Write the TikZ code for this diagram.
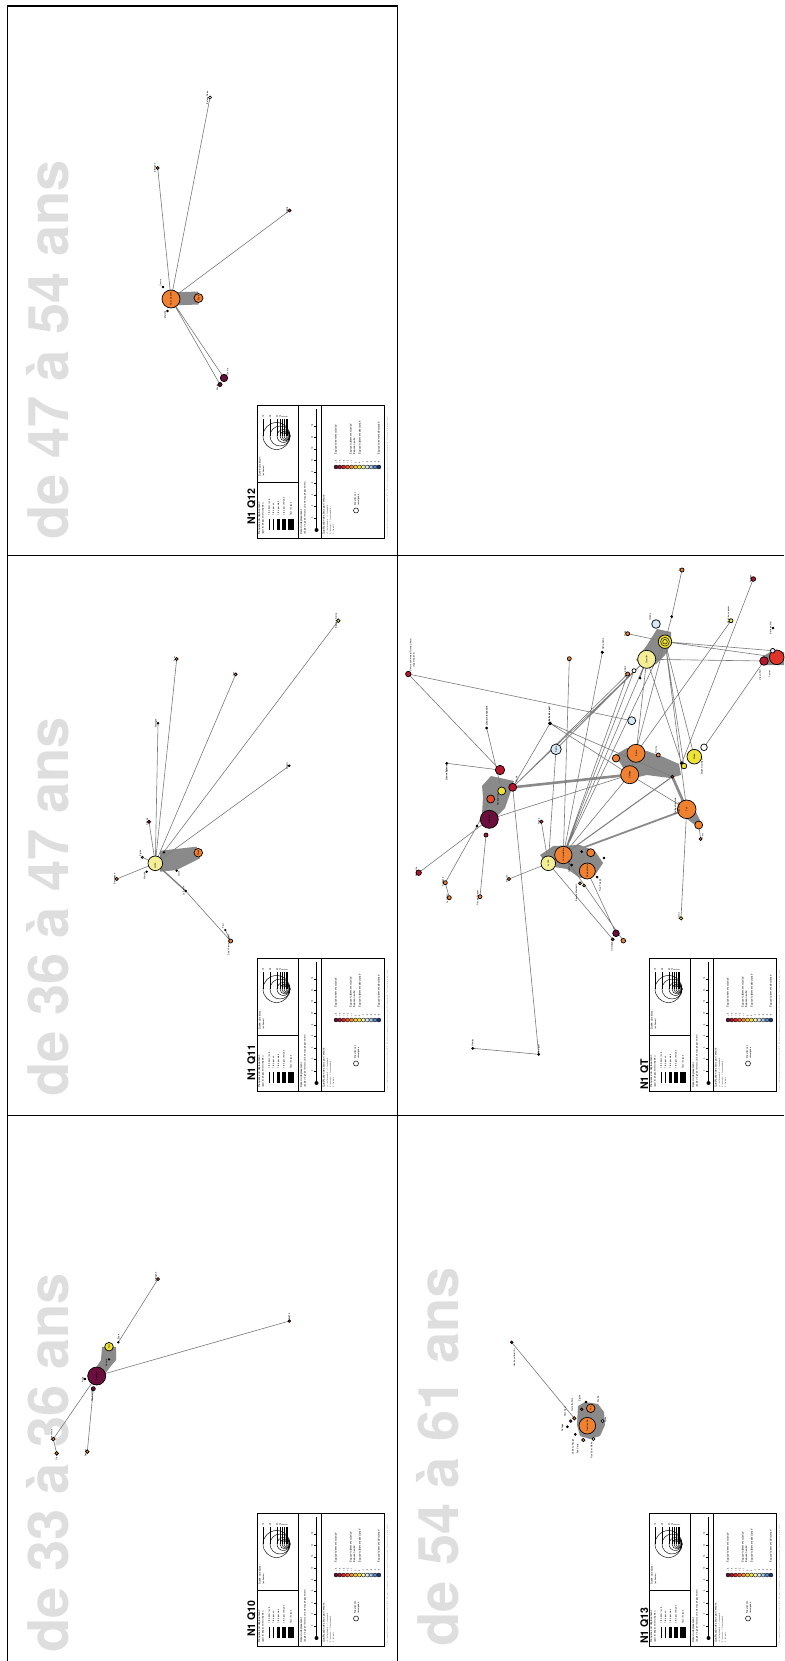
\documentclass[tikz,border=0pt]{standalone}
\usepackage{fontspec}
\setmainfont{TeX Gyre Heros}
\pgfdeclarelayer{titlelayer}
\pgfdeclarelayer{edgelayer}
\pgfsetlayers{titlelayer,edgelayer,main}
\definecolor{cMar}{HTML}{6A0F3C}
\definecolor{cCri}{HTML}{B5152F}
\definecolor{cRed}{HTML}{DE3429}
\definecolor{cROr}{HTML}{E54B2A}
\definecolor{cOra}{HTML}{EF8131}
\definecolor{cBro}{HTML}{C45A1C}
\definecolor{cYel}{HTML}{EEE234}
\definecolor{cPal}{HTML}{F4EF96}
\definecolor{cLbl}{HTML}{D6E8F4}
\definecolor{cEdge}{HTML}{7A7A7A}
\definecolor{cBand}{HTML}{8A8A8A}
\definecolor{cTitle}{HTML}{DEDEDE}
\definecolor{lg1}{HTML}{5E0E36}
\definecolor{lg2}{HTML}{A3122D}
\definecolor{lg3}{HTML}{D72A2A}
\definecolor{lg4}{HTML}{E8582A}
\definecolor{lg5}{HTML}{F08A30}
\definecolor{lg6}{HTML}{F4C530}
\definecolor{lg7}{HTML}{F1E535}
\definecolor{lg8}{HTML}{F6F2A8}
\definecolor{lg9}{HTML}{DCEAF5}
\definecolor{lg10}{HTML}{A7C8E4}
\definecolor{lg11}{HTML}{5C89C4}
\definecolor{lg12}{HTML}{1F3470}
\tikzset{
  frm/.style={line width=1.8pt},
  nd/.style={circle,draw=black,line width=0.7pt,inner sep=0pt},
  lk/.style={draw=cEdge,line width=0.6pt},
  band/.style={draw=cBand,line width=#1},
  band/.default=3pt,
  blob/.style={fill=cBand,draw=none},
  lbl/.style={font=\fontsize{2.2}{2.5}\selectfont,rotate=90,inner sep=0.2pt},
  lblb/.style={lbl,font=\fontsize{2.3}{2.6}\selectfont\bfseries},
  agetitle/.style={font=\fontsize{56}{60}\selectfont\bfseries,text=cTitle,rotate=90,inner sep=0pt,anchor=base west},
  pnl/.style={font=\fontsize{10.5}{12}\selectfont\bfseries,rotate=90,inner sep=0pt,anchor=base west},
  lgtitle/.style={lbl,anchor=west,font=\fontsize{2.6}{3}\selectfont},
}
\newcommand{\mynd}[5]{\node[nd,fill=#5,minimum size=#4*2pt] (#1) at (#2,#3) {};}
\newcommand{\mylb}[4]{\node[lbl] (#1) at (#2,#3) {#4};}
\newcommand{\qlegend}[3]{%
\begin{scope}[shift={(#1,#2)}]
\draw[line width=0.8pt] (0,0) rectangle (127,133);
\draw[line width=0.8pt] (41,0) -- (41,133) (64,0) -- (64,133) (0,77) -- (41,77);
\foreach \r/\v [count=\i] in {13.5/72,10/48,6.5/24,5/12,4/6,3/3,2/2,1.2/1} {
  \draw[line width=0.45pt] (33-\r,31) circle[radius=\r];
  \draw[line width=0.4pt] (33-2*\r,31) -- (33-2*\r,14);
  \node[lbl,anchor=west] (#3c\i) at (33-2*\r,13) {\v};
}
\node[lgtitle] (#3ct1) at (3,72) {Durée du séjour :};
\node[lbl,anchor=west] (#3ct2) at (6.5,72) {(en heures)};
\node[lgtitle] (#3ft1) at (2.5,130) {Fréquence du déplacement :};
\node[lbl,anchor=west] (#3ft2) at (6,130) {(pour les déplacements répétés)};
\foreach \x/\w/\t [count=\i] in {12/0.8/1 fois dans la vie,16.5/1.5/1 fois par an,21.5/2.6/1 fois par mois,27/4.2/1 fois par semaine,34/6/Tous les jours} {
  \fill (\x-\w/2,114) rectangle (\x+\w/2,125);
  \node[lbl,anchor=west] (#3fb\i) at (\x,111) {\t};
}
\node[lgtitle] (#3dt1) at (44.5,130) {Date du déplacement};
\node[lbl,anchor=west] (#3dt2) at (48,130) {(d'après l'âge de l'enfant au moment du déplacement)};
\draw[line width=0.7pt] (59.5,4) -- (59.5,125);
\fill (59.5,125) circle[radius=2];
\foreach \t [count=\i] in {0,...,8} {
  \draw[line width=0.4pt] (56.8,20.7+\t*11.5) -- (59.5,20.7+\t*11.5);
  \node[lbl] (#3dn\i) at (55,20.7+\t*11.5) {\the\numexpr 16-2*\t\relax};
}
\foreach \t in {0,...,40} { \draw[line width=0.2pt] (58.6,5+\t*3) -- (59.5,5+\t*3); }
\node[lgtitle] (#3qt1) at (67,130) {Qualification des lieux par l'enfant :};
\node[lbl,anchor=west,font=\fontsize{1.6}{2}\selectfont] (#3qt2) at (70.5,130) {+5 : lieu très apprécié ; +1 : lieu apprécié ;};
\node[lbl,anchor=west,font=\fontsize{1.6}{2}\selectfont] (#3qt3) at (73.5,130) {0 : lieu neutre ; -1 : lieu peu apprécié ;};
\node[lbl,anchor=west,font=\fontsize{1.6}{2}\selectfont] (#3qt4) at (76.5,130) {-5 : lieu rejeté};
\foreach \c/\n [count=\i] in {lg1/+5,lg2/+4,lg3/+3,lg4/+2,lg5/+1,lg6/0,lg7/0,lg8/-1,lg9/-2,lg10/-3,lg11/-4,lg12/-5} {
  \draw[line width=0.35pt,fill=\c] (75.1+\i*3.9,62) circle[radius=2];
  \node[lbl,anchor=west] (#3qn\i) at (75.1+\i*3.9,58.5) {\n};
}
\node[lbl,anchor=west,font=\fontsize{2.5}{3}\selectfont] (#3q1) at (79,50) {'Espace fortement valorisé'};
\node[lbl,anchor=west,font=\fontsize{2.5}{3}\selectfont] (#3q2) at (94,50) {'Espace faiblement valorisé'};
\node[lbl,anchor=west,font=\fontsize{2.5}{3}\selectfont] (#3q3) at (97.5,50) {'Espace neutre'};
\node[lbl,anchor=west,font=\fontsize{2.5}{3}\selectfont] (#3q4) at (103,50) {'Espace faiblement dévalorisé'};
\node[lbl,anchor=west,font=\fontsize{2.5}{3}\selectfont] (#3q5) at (122,50) {'Espace fortement dévalorisé'};
\draw[line width=0.5pt,fill=white] (99,105.5) circle[radius=2.5];
\node[lbl,anchor=west] (#3o1) at (98,101) {Situation non};
\node[lbl,anchor=west] (#3o2) at (101.5,101) {renseignée};
\node[lbl,anchor=west,text=gray,font=\fontsize{1.5}{2}\selectfont] (#3src) at (130.5,133) {Source : enquête N1 auprès des enfants et de leurs parents, 2010 -- Réalisation : cartographie des espaces de vie, logiciel R et package igraph -- Traitement et mise en page : auteur};
\end{scope}}
\begin{document}
\begin{tikzpicture}[x=1pt,y=-1pt]
\useasboundingbox (0,0) rectangle (784,1661);
% ---------- titles ----------
\begin{pgfonlayer}{titlelayer}
\fill[white] (0,0) rectangle (784,1661);
\node[agetitle] (t1) at (68,540) {de 47 à 54 ans};
\node[agetitle] (t2) at (68,1097) {de 36 à 47 ans};
\node[agetitle] (t3) at (68,1653) {de 33 à 36 ans};
\node[agetitle] (t4) at (458,1647) {de 54 à 61 ans};
\end{pgfonlayer}
% ---------- frames ----------
\draw[frm] (7.5,1661) -- (7.5,6) -- (397.5,6) -- (397.5,1661);
\draw[frm] (7.5,555.5) -- (784,555.5);
\draw[frm] (7.5,1115.5) -- (784,1115.5);
% ---------- panel labels & legends ----------
\node[pnl] (p1) at (255,525) {N1 Q12};
\node[pnl] (p2) at (255,1081) {N1 Q11};
\node[pnl] (p3) at (255,1637) {N1 Q10};
\node[pnl] (p4) at (648,1090) {N1 QT};
\node[pnl] (p5) at (648,1644) {N1 Q13};
\qlegend{257}{405}{La}
\qlegend{257}{958}{Lb}
\qlegend{257}{1513}{Lc}
\qlegend{649}{958}{Ld}
\qlegend{649}{1513}{Le}
% ================= Q12 =================
\mynd{a1}{171}{299}{9}{cOra}
\mynd{a2}{198.5}{298}{4.5}{cOra}
\mynd{a3}{224}{378}{3.7}{cMar}
\mynd{a4}{220}{384.5}{2}{cMar}
\mynd{a5}{210}{97.5}{1.5}{white}
\mynd{a6}{157.7}{168}{1.5}{cBro}
\mynd{a7}{289.7}{210.5}{1.5}{cRed}
\mynd{a8}{163}{287}{0.9}{black}
\mynd{a9}{167.5}{311}{0.9}{black}
\mylb{a1l}{171}{299}{Rue Lafayette}
\mylb{a2l}{198.5}{298}{École}
\mylb{a5l}{207.3}{97.5}{Bateau Corse}
\mylb{a6l}{155}{168}{Bretagne}
\mylb{a7l}{287.2}{210.5}{Algérie}
\mylb{a8l}{160.5}{283}{Centre}
\mylb{a9l}{165}{315}{Marché}
\mylb{a3l}{227.5}{372}{Tunisie}
\mylb{a4l}{217.3}{387}{Maroc}
\begin{pgfonlayer}{edgelayer}
\draw[band=13pt] (a1.center) -- (a2.center);
\draw[lk] (a1.center) -- (a5.center) (a1.center) -- (a6.center) (a1.center) -- (a7.center)
  (a1.center) -- (a3.center) (a1.center) -- (a4.center);
\end{pgfonlayer}
% ================= Q11 =================
\mynd{b1}{155.3}{863.3}{7.3}{cPal}
\mynd{b2}{198.3}{852.7}{4.3}{cOra}
\mynd{b3}{338.3}{620.7}{1.8}{cYel}
\mynd{b4}{176.7}{659}{1.5}{cOra}
\mynd{b5}{235.7}{674.3}{1.5}{cOra}
\mynd{b6}{158}{723.3}{0.9}{black}
\mynd{b7}{289.3}{765.7}{0.9}{black}
\mynd{b8}{149}{821.7}{1.7}{cCri}
\mynd{b9}{116.7}{879}{1.6}{cOra}
\mynd{b10}{185.7}{891}{0.9}{black}
\mynd{b11}{230.7}{941}{2}{cOra}
\mynd{b12}{142.3}{857.3}{1.1}{white}
\mynd{b13}{164}{852.3}{0.8}{black}
\mynd{b14}{176.7}{870.7}{0.8}{black}
\mynd{b15}{146.7}{871.7}{0.8}{black}
\mynd{b16}{225.3}{930}{0.7}{black}
\mylb{b1l}{155.3}{866}{Lycée}
\mylb{b2l}{198.3}{852.7}{Stade}
\mylb{b3l}{336.3}{620.7}{Bourg-la-Reine}
\mylb{b4l}{174.7}{659}{Paris}
\mylb{b5l}{233.7}{674.3}{Lyon}
\mylb{b6l}{156}{723.3}{Bretagne}
\mylb{b7l}{287.3}{765.7}{Angers}
\mylb{b8l}{147}{821.7}{Cinéma}
\mylb{b9l}{114.7}{879}{Bourgogne}
\mylb{b10l}{183.7}{891}{La Poste}
\mylb{b11l}{228.5}{945}{Saint-Pierre-du-Mont}
\mylb{b12l}{140.3}{853}{Église}
\mylb{b15l}{144.5}{876}{Marché}
\mylb{b14l}{178.8}{874}{Gare}
\mylb{b16l}{223.2}{926}{Port}
\begin{pgfonlayer}{edgelayer}
\fill[blob] (160,850.7) -- (196.7,846.7) -- (200,858.3) -- (176.7,870) -- (160,871.7) -- cycle;
\draw[lk] (b1.center) -- (b3.center) (b1.center) -- (b4.center) (b1.center) -- (b5.center)
  (b1.center) -- (b6.center) (b1.center) -- (b7.center) (b1.center) -- (b8.center)
  (b1.center) -- (b9.center) (b10.center) -- (b11.center) (b11.center) -- (b16.center)
  (b1.center) -- (b12.center) (b1.center) -- (b13.center);
\draw[lk,line width=1.3pt] (b1.center) -- (b10.center);
\end{pgfonlayer}
% ================= Q10 =================
\mynd{c1}{96.7}{1376}{9}{cMar}
\mynd{c2}{109}{1346.7}{4.3}{cYel}
\mynd{c3}{158}{1279}{1.5}{cBro}
\mynd{c4}{289.3}{1321}{1.3}{cBro}
\mynd{c5}{53.3}{1439}{1.8}{cOra}
\mynd{c6}{56.7}{1453.3}{1.8}{cOra}
\mynd{c7}{87.3}{1451.7}{1.8}{cOra}
\mynd{c8}{93.3}{1388.7}{2}{cMar}
\mynd{c9}{85}{1379}{0.8}{black}
\mynd{c10}{109}{1359.3}{0.8}{black}
\mynd{c11}{118.3}{1342.3}{0.8}{black}
\mylb{c1l}{96.7}{1376}{Domicile}
\mylb{c2l}{109}{1346.7}{Parc}
\mylb{c3l}{156}{1277}{Bretagne}
\mylb{c4l}{289.3}{1318}{Espagne}
\mylb{c5l}{51.5}{1435}{Saint-Malo}
\mylb{c6l}{56.7}{1457}{Dinard}
\mylb{c7l}{85.5}{1453}{Rennes}
\mylb{c8l}{92}{1396}{Rue Danton}
\mylb{c9l}{83}{1380}{Plage}
\mylb{c10l}{106.5}{1363}{Square}
\mylb{c11l}{118.3}{1337}{École}
\begin{pgfonlayer}{edgelayer}
\fill[blob] (102,1347) -- (116,1347) -- (116,1360) -- (111,1366) -- (104,1375) -- (95,1369) -- (101,1360) -- cycle;
\draw[lk] (c1.center) -- (c4.center) (c11.center) -- (c3.center) (c1.center) -- (c5.center)
  (c5.center) -- (c6.center) (c8.center) -- (c7.center);
\end{pgfonlayer}
% ================= Q13 =================
\mynd{d1}{587.3}{1425.7}{8.3}{cOra}
\mynd{d2}{590.7}{1408.3}{4.3}{cOra}
\mynd{d3}{511.7}{1342.3}{1.3}{cMar}
\mynd{d4}{574.3}{1418.3}{1.7}{cOra}
\mynd{d5}{570.7}{1421}{1.3}{cRed}
\mynd{d6}{567.3}{1426.7}{1}{black}
\mynd{d7}{581.7}{1409.3}{1.3}{cRed}
\mynd{d8}{583.3}{1440}{1.7}{cOra}
\mynd{d9}{593.3}{1439}{1.5}{white}
\mynd{d10}{602.7}{1421}{1.5}{white}
\mynd{d11}{575.3}{1434.3}{1}{black}
\mynd{d12}{586}{1402}{0.8}{black}
\mylb{d3l}{514.5}{1358}{Centre culturel (A)}
\mylb{d1l}{587.3}{1425.7}{Centre ville}
\mylb{d2l}{590.7}{1408.3}{Parc}
\mylb{d4l}{572}{1405}{Gare routière}
\mylb{d5l}{565}{1412}{Pont Neuf}
\mylb{d6l}{562.5}{1428}{Collège}
\mylb{d8l}{573}{1447}{Château Rouge}
\mylb{d11l}{577.5}{1449}{Rue Verte}
\mylb{d9l}{591.5}{1450}{Rue Saint Martin}
\mylb{d10l}{605.5}{1420}{Lycée}
\mylb{d7l}{579.5}{1398}{Église}
\mylb{d12l}{598}{1399}{Mairie}
\begin{pgfonlayer}{edgelayer}
\fill[blob] (578,1406) -- (585,1402) -- (598,1404) -- (604,1412) -- (605,1425) -- (600,1436) -- (590,1439) -- (580,1436) -- (577,1425) -- cycle;
\draw[lk] (d3.center) -- (d4.center);
\end{pgfonlayer}
% ================= QT =================
\mynd{e1}{489.3}{819.3}{9}{cMar}
\mynd{e2}{500}{770}{4.7}{cCri}
\mynd{e3}{490.7}{799}{4}{cROr}
\mynd{e4}{501.7}{791}{4}{cYel}
\mynd{e5}{512.7}{787.3}{4}{cCri}
\mynd{e6}{556}{749.3}{5.3}{cLbl}
\mynd{e7}{631.7}{720.7}{4}{cLbl}
\mynd{e8}{636}{753.3}{9}{cOra}
\mynd{e9}{629.7}{774.7}{9}{cOra}
\mynd{e10}{616}{758.3}{3.7}{cOra}
\mynd{e11}{694.3}{756.7}{7.3}{cYel}
\mynd{e12}{704}{747.3}{3.3}{white}
\mynd{e13}{686.7}{809.3}{9.3}{cOra}
\mynd{e14}{698.7}{825}{4}{cOra}
\mynd{e15}{548.3}{863.3}{7.3}{cPal}
\mynd{e16}{563.3}{855}{8.7}{cOra}
\mynd{e17}{587.3}{871}{8}{cOra}
\mynd{e18}{590.7}{852.7}{4}{cOra}
\mynd{e19}{646.7}{659.3}{9}{cPal}
\mynd{e20}{665}{641.7}{6.7}{cYel}
\mynd{e21}{656}{624}{4.3}{cLbl}
\mynd{e22}{776.7}{657.3}{7.3}{cRed}
\mynd{e23}{764}{661}{4.3}{cCri}
\mynd{e24}{772.7}{650.7}{2.3}{cLbl}
\mynd{e25}{616}{933.3}{3.3}{cMar}
\mynd{e26}{623.3}{940.7}{2.3}{cOra}
\mynd{e27}{612.7}{939.3}{1.5}{cCri}
\mynd{e28}{408.3}{674}{2.7}{cCri}
\mynd{e29}{682}{570}{2}{cOra}
\mynd{e30}{753.3}{579}{2.3}{cCri}
\mynd{e31}{731}{620.7}{2}{cYel}
\mynd{e32}{627.7}{633.7}{2}{cOra}
\mynd{e33}{569.3}{658.7}{2}{cOra}
\mynd{e34}{602.3}{652.3}{1.2}{black}
\mynd{e35}{671.7}{616.7}{1}{black}
\mynd{e36}{627.7}{674}{2}{cOra}
\mynd{e37}{634}{670.7}{2}{white}
\mynd{e38}{550}{723.3}{1.5}{black}
\mynd{e39}{486.7}{728}{1}{black}
\mynd{e40}{446.7}{763.3}{1}{black}
\mynd{e41}{658.3}{755}{2}{cOra}
\mynd{e42}{681.7}{763.3}{1.5}{black}
\mynd{e43}{684}{766}{2.8}{cYel}
\mynd{e44}{672.3}{776.7}{1.5}{cRed}
\mynd{e45}{541.3}{821.7}{1.7}{cRed}
\mynd{e46}{418.7}{872.7}{2.7}{cCri}
\mynd{e47}{445.3}{882.7}{2}{cOra}
\mynd{e48}{449.3}{897.7}{2}{cOra}
\mynd{e49}{480}{896.7}{2}{cOra}
\mynd{e50}{509}{879}{1.7}{cOra}
\mynd{e51}{681}{918.3}{1.7}{cYel}
\mynd{e52}{700.7}{839}{1.5}{cOra}
\mynd{e53}{472.7}{1048.3}{1}{black}
\mynd{e54}{538.7}{1054.3}{1}{black}
\mynd{e55}{486}{835}{2}{cCri}
\mynd{e56}{477}{826}{1}{black}
\mynd{e57}{571.7}{865}{1}{black}
\mynd{e58}{581.7}{851.7}{1}{black}
\mynd{e59}{580}{883.3}{1.5}{cOra}
\mynd{e60}{584}{885.5}{1.3}{cYel}
\mynd{e61}{597}{877}{1}{black}
\mynd{e62}{604}{858}{0.8}{black}
\mynd{e63}{640}{678}{1}{black}
\mynd{e65}{773}{628}{0.8}{black}
\draw[line width=0.45pt] (e20.center) circle[radius=4.4] (e20.center) circle[radius=2.3];
\mylb{e1l}{489.3}{819.3}{Domicile}
\mylb{e6l}{556}{749.3}{Église}
\mylb{e8l}{636}{753.3}{École}
\mylb{e9l}{629.7}{774.7}{Collège}
\mylb{e11l}{694.3}{756.7}{Stade}
\mylb{e13i}{686.7}{809.3}{Tati}
\mylb{e15l}{548.3}{863.3}{Lycée}
\mylb{e16l}{563.3}{855}{La Canebière}
\mylb{e17l}{587.3}{871}{Rue de Rome}
\mylb{e19l}{646.7}{659.3}{Quartier}
\mylb{e28l}{410.5}{655}{Centre commercial Grand Littoral}
\mylb{e28m}{414}{660}{(hypermarché)}
\node[lblb] (e39l) at (486.7,716) {Lieu de rencontre};
\node[lblb] (e40l) at (446.7,773) {Lieu religieux};
\node[lblb] (e38l) at (549.5,714) {Salle de sport};
\mylb{e46l}{416.3}{872}{Marseille}
\mylb{e47l}{443}{882}{Aubagne}
\mylb{e48l}{447}{899}{La Ciotat}
\mylb{e49l}{477.8}{898}{Plan de Cuques}
\mylb{e50l}{506.8}{879}{Allauch}
\mylb{e51l}{678.8}{916}{Cassis}
\mylb{e52l}{702.7}{836}{Parc}
\mylb{e13l}{675.5}{806}{Collège Rostand}
\mylb{e13m}{679}{808}{et gymnase}
\mylb{e12l}{702}{767}{Stade municipal}
\mylb{e41l}{656}{750}{Piscine}
\mylb{e36l}{625.3}{672}{Gare SNCF}
\mylb{e21l}{650}{617}{Cinéma}
\mylb{e32l}{625.4}{634}{Plage}
\mylb{e31l}{728.6}{615}{Marché aux puces}
\mylb{e65l}{770.5}{628}{Belle de Mai}
\mylb{e23l}{760}{675}{Vieux-Port}
\mylb{e22l}{769.5}{674}{Panier}
\mylb{e34l}{603}{644}{Notre-Dame}
\mylb{e5l}{516.5}{779}{Mairie}
\mylb{e4l}{498}{800}{Boulangerie}
\mylb{e25l}{612}{946}{Calanques}
\mylb{e53l}{472.7}{1043}{Vitrolles}
\mylb{e54l}{538.7}{1049}{Martigues}
\mylb{e29l}{679.6}{570}{Aix}
\mylb{e30l}{750.8}{579}{Avignon}
\mylb{e59l}{576.5}{893}{Square Monticelli}
\mylb{e61l}{600}{885}{Rue Paradis}
\mylb{e57l}{569}{866}{Cours Julien}
\mylb{e45l}{538.8}{821.7}{Prado}
\begin{pgfonlayer}{edgelayer}
\fill[blob] (482,786) -- (491,776) -- (514,781) -- (511,791) -- (505,808) -- (498,815) -- (490,824) -- (482,814) -- (483,797) -- cycle;
\fill[blob] (540,855) -- (553.3,846) -- (580,845) -- (595,851) -- (603,863) -- (595,875) -- (580,878) -- (567,869) -- (548,866) -- cycle;
\fill[blob] (615,755) -- (627,748) -- (646.7,751) -- (663.3,757) -- (679,764) -- (681,775) -- (670,778) -- (646.7,775) -- (634,778) -- (624,769) -- cycle;
\fill[blob] (681,799) -- (693.3,807) -- (701,822) -- (699,828) -- (687,819) -- (680,812) -- cycle;
\fill[blob] (636,660) -- (647,645) -- (657,629) -- (671,632) -- (671,644) -- (665,655) -- (656,664) -- (644,668) -- cycle;
\fill[blob] (762,657) -- (770,652) -- (784,652) -- (784,665) -- (765,665) -- cycle;
\draw[band=2.6pt] (e5.center) -- (e9.center);
\draw[band=1.8pt] (e16.center) -- (e13.center);
\draw[band=2.6pt] (e44.center) -- (e13.center);
\draw[lk] (e28.center) -- (e7.center) (e28.center) -- (e2.center) (e40.center) -- (e2.center)
  (e39.center) -- (e4.center) (e46.center) -- (e1.center) (e47.center) -- (e56.center)
  (e47.center) -- (e48.center) (e49.center) -- (e55.center) (e5.center) -- (e38.center)
  (e5.center) -- (e36.center) (e5.center) -- (e19.center) (e5.center) -- (e54.center)
  (e53.center) -- (e54.center) (e1.center) -- (e9.center) (e38.center) -- (e44.center)
  (e38.center) -- (e9.center) (e6.center) -- (e19.center) (e15.center) -- (e6.center)
  (e16.center) -- (e34.center) (e16.center) -- (e33.center) (e16.center) -- (e36.center)
  (e16.center) -- (e37.center) (e16.center) -- (e19.center) (e16.center) -- (e20.center)
  (e16.center) -- (e9.center) (e8.center) -- (e19.center) (e9.center) -- (e20.center)
  (e19.center) -- (e42.center) (e20.center) -- (e43.center) (e11.center) -- (e20.center)
  (e13.center) -- (e20.center) (e29.center) -- (e35.center) (e35.center) -- (e20.center)
  (e30.center) -- (e42.center) (e31.center) -- (e8.center) (e23.center) -- (e12.center)
  (e20.center) -- (e24.center) (e19.center) -- (e23.center) (e20.center) -- (e22.center)
  (e32.center) -- (e20.center) (e13.center) -- (e51.center) (e14.center) -- (e52.center)
  (e17.center) -- (e25.center) (e16.center) -- (e26.center) (e15.center) -- (e27.center)
  (e15.center) -- (e50.center) (e45.center) -- (e15.center) (e9.center) -- (e13.center)
  (e37.center) -- (e6.center) (e3.center) -- (e56.center) (e63.center) -- (e19.center);
\draw[lk,line width=1pt] (e16.center) -- (e44.center);
\end{pgfonlayer}
\end{tikzpicture}
\end{document}
